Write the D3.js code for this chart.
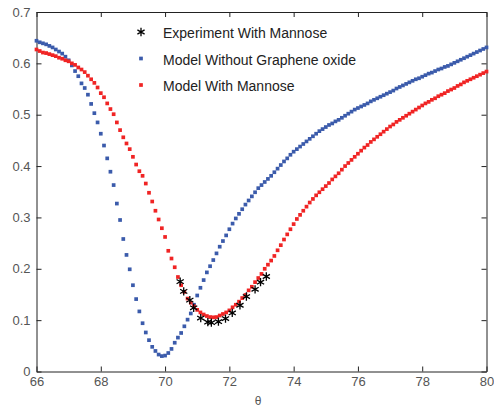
<!DOCTYPE html>
<html>
<head>
<meta charset="utf-8">
<script src="https://cdn.jsdelivr.net/npm/d3@7"></script>
<style>
  body { margin: 0; background: #fff; }
  svg { display: block; }
  text { font-family: "Liberation Sans", Arial, sans-serif; }
</style>
</head>
<body>
<svg id="chart"></svg>
<script>
// sample grid of the two model curves (deg)
const theta = d3.range(0, 141).map(i => 66 + i / 10);

const modelWithoutGO = [
  0.644, 0.641, 0.639, 0.637, 0.634, 0.631, 0.627, 0.623, 0.619, 0.613,
  0.606, 0.596, 0.585, 0.575, 0.561, 0.552, 0.539, 0.521, 0.503, 0.485,
  0.463, 0.440, 0.415, 0.389, 0.363, 0.327, 0.295, 0.258, 0.227, 0.199,
  0.168, 0.141, 0.117, 0.094, 0.076, 0.061, 0.048, 0.040, 0.033, 0.030,
  0.031, 0.036, 0.044, 0.056, 0.066, 0.075, 0.088, 0.101, 0.113, 0.130,
  0.148, 0.163, 0.178, 0.193, 0.205, 0.217, 0.230, 0.243, 0.254, 0.265,
  0.277, 0.288, 0.298, 0.307, 0.316, 0.325, 0.333, 0.341, 0.349, 0.357,
  0.363, 0.369, 0.375, 0.381, 0.388, 0.395, 0.402, 0.409, 0.415, 0.422,
  0.428, 0.433, 0.438, 0.443, 0.448, 0.453, 0.458, 0.463, 0.468, 0.472,
  0.476, 0.480, 0.483, 0.487, 0.490, 0.494, 0.498, 0.502, 0.506, 0.510,
  0.513, 0.516, 0.519, 0.522, 0.526, 0.529, 0.532, 0.535, 0.538, 0.541,
  0.544, 0.547, 0.551, 0.554, 0.557, 0.560, 0.563, 0.566, 0.569, 0.571,
  0.574, 0.577, 0.580, 0.582, 0.585, 0.588, 0.590, 0.593, 0.595, 0.598,
  0.601, 0.604, 0.607, 0.610, 0.613, 0.616, 0.619, 0.622, 0.625, 0.628,
  0.631
];

const modelWithMannose = [
  0.627, 0.624, 0.621, 0.620, 0.618, 0.616, 0.614, 0.611, 0.609, 0.606,
  0.604, 0.600, 0.597, 0.592, 0.588, 0.583, 0.576, 0.569, 0.562, 0.553,
  0.542, 0.534, 0.522, 0.511, 0.501, 0.485, 0.470, 0.456, 0.444, 0.433,
  0.418, 0.403, 0.390, 0.381, 0.366, 0.348, 0.331, 0.313, 0.296, 0.279,
  0.262, 0.235, 0.220, 0.203, 0.184, 0.168, 0.155, 0.142, 0.134, 0.127,
  0.120, 0.115, 0.111, 0.108, 0.106, 0.1055, 0.106, 0.109, 0.112, 0.115,
  0.119, 0.125, 0.130, 0.136, 0.143, 0.149, 0.158, 0.165, 0.174, 0.182,
  0.190, 0.200, 0.208, 0.216, 0.225, 0.236, 0.246, 0.257, 0.267, 0.277,
  0.287, 0.297, 0.305, 0.313, 0.321, 0.329, 0.336, 0.343, 0.349, 0.355,
  0.361, 0.367, 0.374, 0.380, 0.386, 0.393, 0.400, 0.406, 0.412, 0.418,
  0.424, 0.430, 0.436, 0.441, 0.447, 0.452, 0.457, 0.462, 0.467, 0.472,
  0.477, 0.481, 0.486, 0.490, 0.494, 0.498, 0.502, 0.506, 0.510, 0.514,
  0.518, 0.522, 0.525, 0.529, 0.532, 0.536, 0.539, 0.542, 0.546, 0.549,
  0.552, 0.556, 0.559, 0.563, 0.566, 0.569, 0.572, 0.575, 0.578, 0.581,
  0.584
];

// measured points
const expTheta = [70.47, 70.58, 70.77, 70.89, 71.11, 71.33, 71.44, 71.66, 71.88, 72.09, 72.33, 72.53, 72.80, 72.97, 73.15];
const expValue = [0.175, 0.156, 0.139, 0.124, 0.104, 0.096, 0.095, 0.097, 0.103, 0.114, 0.129, 0.146, 0.160, 0.174, 0.185];

const xTicks = [66, 68, 70, 72, 74, 76, 78, 80];
const yTicks = [0, 0.1, 0.2, 0.3, 0.4, 0.5, 0.6, 0.7];
const yTickLabels = ["0", "0.1", "0.2", "0.3", "0.4", "0.5", "0.6", "0.7"];
const legendLabels = ["Experiment With Mannose", "Model Without Graphene oxide", "Model With Mannose"];

const width = 494;
const height = 407;
const margin = { top: 12, right: 7.5, bottom: 35.5, left: 36.5 };

const blue = "#3b5bab";
const red = "#f02424";

const svg = d3.select("#chart")
    .attr("width", width)
    .attr("height", height);

const x = d3.scaleLinear()
    .domain([66, 80])
    .range([margin.left, width - margin.right]);

const y = d3.scaleLinear()
    .domain([0, 0.7])
    .range([height - margin.bottom, margin.top]);

// axes on all four sides, ticks pointing inwards
const axisColor = "#222";
const tickLen = 5;

function styleAxis(g) {
    g.select(".domain").attr("stroke", axisColor);
    g.selectAll(".tick line").attr("stroke", axisColor);
    g.selectAll(".tick text")
        .attr("fill", "#555")
        .style("font-size", "13px");
}

svg.append("g")
    .attr("transform", `translate(0,${height - margin.bottom})`)
    .call(d3.axisBottom(x).tickValues(xTicks).tickFormat(d3.format("d"))
        .tickSizeInner(-tickLen).tickSizeOuter(0).tickPadding(5))
    .call(styleAxis);

svg.append("g")
    .attr("transform", `translate(0,${margin.top})`)
    .call(d3.axisTop(x).tickValues(xTicks).tickFormat("")
        .tickSizeInner(-tickLen).tickSizeOuter(0))
    .call(styleAxis);

svg.append("g")
    .attr("transform", `translate(${margin.left},0)`)
    .call(d3.axisLeft(y).tickValues(yTicks).tickFormat((d, i) => yTickLabels[i])
        .tickSizeInner(-tickLen).tickSizeOuter(0).tickPadding(6))
    .call(styleAxis);

svg.append("g")
    .attr("transform", `translate(${width - margin.right},0)`)
    .call(d3.axisRight(y).tickValues(yTicks).tickFormat("")
        .tickSizeInner(-tickLen).tickSizeOuter(0))
    .call(styleAxis);

// axis title
svg.append("text")
    .attr("x", 258)
    .attr("y", 401)
    .attr("dy", "0.35em")
    .attr("text-anchor", "middle")
    .attr("fill", "#555")
    .style("font-size", "12px")
    .text("θ");

const plot = svg.append("g");
const markSize = 3.7;

function drawModel(values, color, cls) {
    plot.selectAll("." + cls)
        .data(values)
        .enter()
        .append("rect")
        .attr("class", cls)
        .attr("x", (d, i) => x(theta[i]) - markSize / 2)
        .attr("y", d => y(d) - markSize / 2)
        .attr("width", markSize)
        .attr("height", markSize)
        .attr("fill", color);
}

drawModel(modelWithoutGO, blue, "pt-blue");
drawModel(modelWithMannose, red, "pt-red");

const star = d3.symbol().type(d3.symbolAsterisk).size(48);

plot.selectAll(".pt-exp")
    .data(expValue)
    .enter()
    .append("path")
    .attr("class", "pt-exp")
    .attr("transform", (d, i) => `translate(${x(expTheta[i])},${y(d)})`)
    .attr("d", star)
    .attr("fill", "none")
    .attr("stroke", "#000")
    .attr("stroke-width", 1.3);

// legend, no frame
const legend = svg.append("g").attr("transform", "translate(141,32)");
const rowGap = 26.5;

legend.append("path")
    .attr("d", star)
    .attr("fill", "none")
    .attr("stroke", "#000")
    .attr("stroke-width", 1.3);

legend.append("rect")
    .attr("x", -markSize / 2)
    .attr("y", rowGap - markSize / 2)
    .attr("width", markSize)
    .attr("height", markSize)
    .attr("fill", blue);

legend.append("rect")
    .attr("x", -markSize / 2)
    .attr("y", 2 * rowGap - markSize / 2)
    .attr("width", markSize)
    .attr("height", markSize)
    .attr("fill", red);

legend.selectAll(".legend-label")
    .data(legendLabels)
    .enter()
    .append("text")
    .attr("class", "legend-label")
    .attr("x", 22)
    .attr("y", (d, i) => i * rowGap + 1.5)
    .attr("dy", "0.35em")
    .attr("fill", "#222")
    .style("font-size", "14px")
    .text(d => d);
</script>
</body>
</html>
